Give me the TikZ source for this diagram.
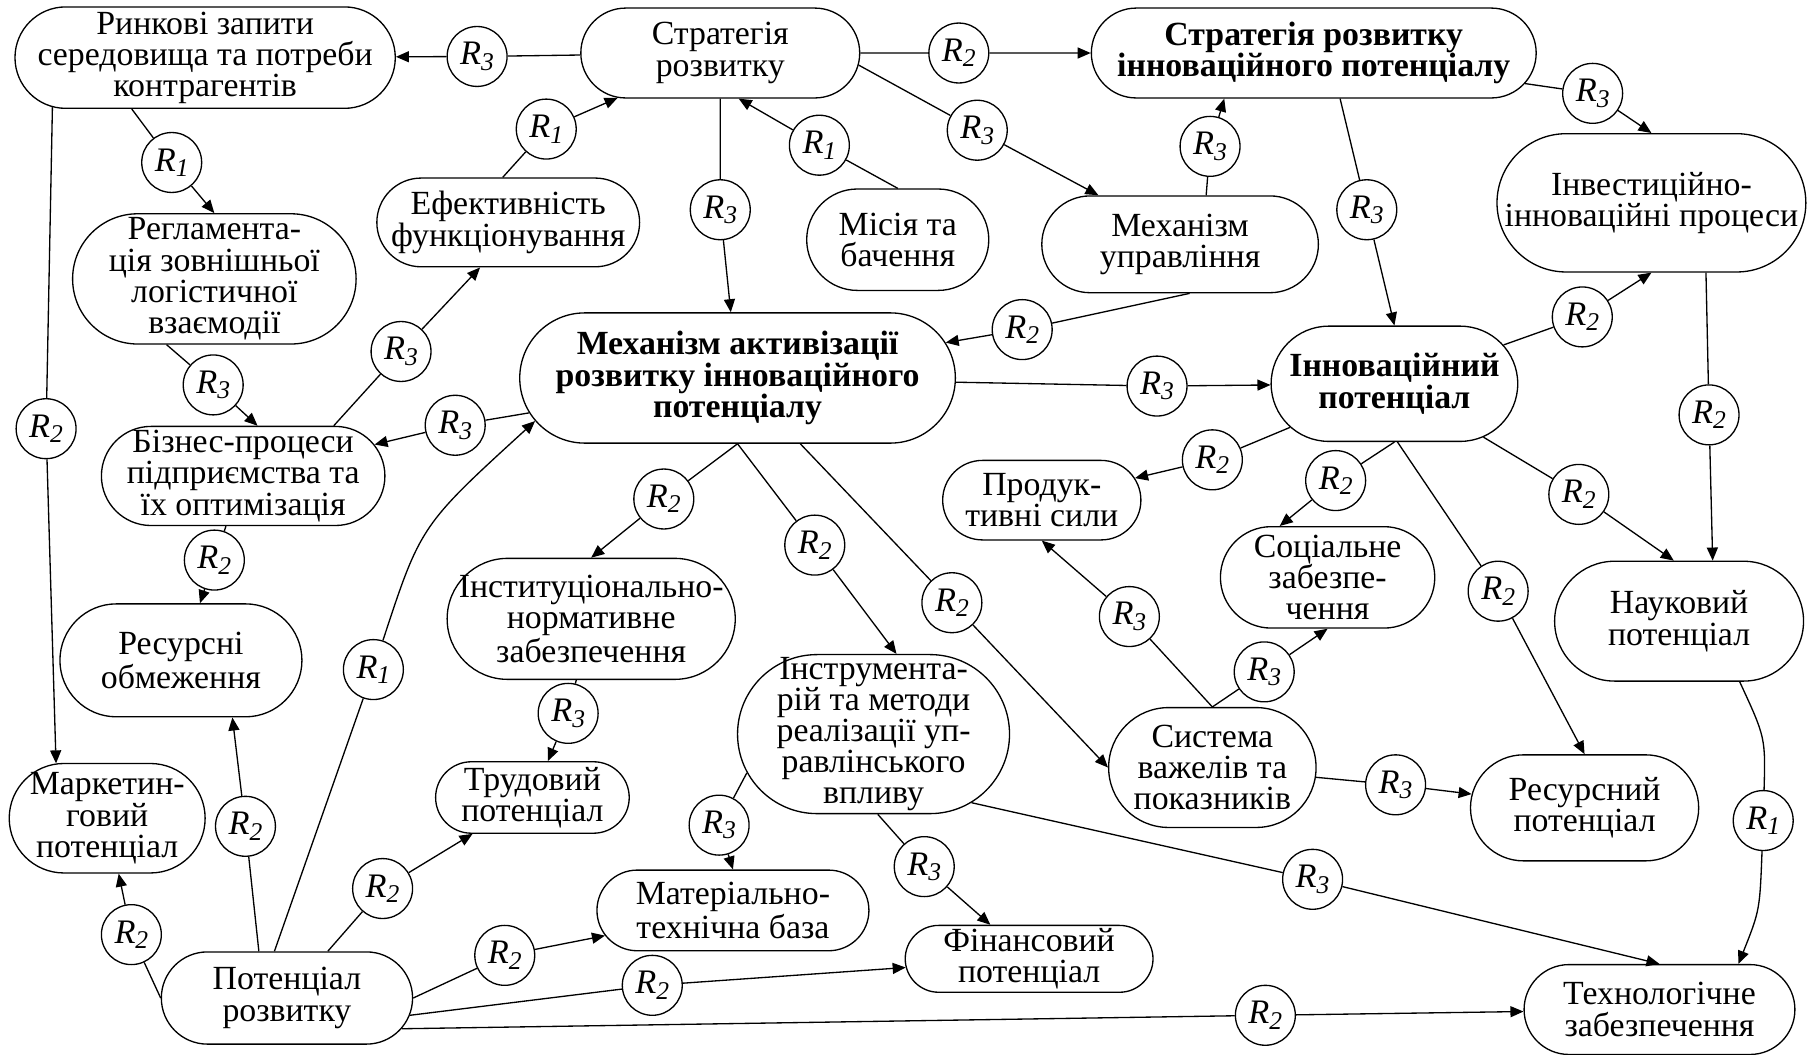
\documentclass[tikz,border=0pt]{standalone}
\usepackage{fontspec}
\setmainfont{Liberation Serif}
\usetikzlibrary{shapes.misc,arrows.meta}

\newcommand{\pxu}{0.023cm}
\newcommand{\fsz}{\fontsize{19.2}{17.7}\selectfont}
\newcommand{\Rk}[1]{{\fontsize{19.5}{19}\selectfont\textit{R}}\raisebox{-0.35ex}{\fontsize{14.5}{14}\selectfont\textit{#1}}}

\tikzset{
  blk/.style 2 args={rounded rectangle, draw, line width=0.75pt,
    minimum width=#1*\pxu, minimum height=#2*\pxu, inner sep=0pt},
  txt/.style={align=center, inner sep=0pt},
  bold/.style={font=\fsz\bfseries},
  rr/.style={circle, draw, line width=0.75pt, fill=white, minimum size=52*\pxu, inner sep=0pt},
  con/.style={line width=0.75pt},
  arr/.style={con, -{Triangle[length=0.26cm,width=0.22cm]}},
}

\begin{document}
\begin{tikzpicture}[x=\pxu, y=-\pxu, every node/.style={font=\fsz}]
\useasboundingbox (0,0) rectangle (1568,915);
%
\node[blk={330}{88}, label={[txt]center:{Ринкові запити\\середовища та потреби\\контрагентів}}] (rynok) at (178,50) {};
\node[blk={242}{78}, label={[txt]center:{Стратегія\\розвитку}}] (strat) at (625,46) {};
\node[blk={386}{78}, label={[txt,bold]center:{Стратегія розвитку\\інноваційного потенціалу}}] (stratinn) at (1140,46) {};
\node[blk={268}{120}, label={[txt]center:{Інвестиційно-\\інноваційні процеси}}] (invest) at (1433,176) {};
\node[blk={228}{77}, label={[txt]center:{Ефективність\\функціонування}}] (efekt) at (441,193) {};
\node[blk={158}{88}, label={[txt]center:{Місія та\\бачення}}] (misia) at (779,208) {};
\node[blk={240}{84}, label={[txt]center:{Механізм\\управління}}] (mechupr) at (1024,212) {};
\node[blk={246}{113}, label={[txt]center:{Регламента-\\ція зовнішньої\\логістичної\\взаємодії}}] (reglam) at (186,242) {};
\node[blk={378}{113}, label={[txt,bold]center:{Механізм активізації\\розвитку інноваційного\\потенціалу}}] (mechakt) at (640,328) {};
\node[blk={214}{100}, label={[txt,bold]center:{Інноваційний\\потенціал}}] (innov) at (1210,333) {};
\node[blk={246}{86}, label={[txt]center:{Бізнес-процеси\\підприємства та\\їх оптимізація}}] (biznes) at (211,413) {};
\node[blk={172}{69}, label={[txt]center:{Продук-\\тивні сили}}] (produk) at (904,434) {};
\node[blk={186}{88}, label={[txt]center:{Соціальне\\забезпе-\\чення}}] (social) at (1152,501) {};
\node[blk={216}{104}, label={[txt]center:{Науковий\\потенціал}}] (naukov) at (1457,539) {};
\node[blk={250}{105}, label={[txt]center:{Інституціонально-\\нормативне\\забезпечення}}] (instnorm) at (513,537) {};
\node[blk={210}{98}, label={[txt]center:{Ресурсні\\обмеження}}] (resursni) at (157,573) {};
\node[blk={236}{138}, label={[txt]center:{Інструмента-\\рій та методи\\реалізації уп-\\равлінського\\впливу}}] (instrum) at (758,637) {};
\node[blk={180}{104}, label={[txt]center:{Система\\важелів та\\показників}}] (system) at (1052,666) {};
\node[blk={168}{62}, label={[txt]center:{Трудовий\\потенціал}}] (trudov) at (462,692) {};
\node[blk={198}{92}, label={[txt]center:{Ресурсний\\потенціал}}] (resursp) at (1375,701) {};
\node[blk={170}{95}, label={[txt]center:{Маркетин-\\говий\\потенціал}}] (market) at (93,710) {};
\node[blk={236}{70}, label={[txt]center:{Матеріально-\\технічна база}}] (materi) at (636,790) {};
\node[blk={215}{58}, label={[txt]center:{Фінансовий\\потенціал}}] (finans) at (893,832) {};
\node[blk={235}{78}, label={[txt]center:{Технологічне\\забезпечення}}] (techno) at (1440,876) {};
\node[blk={218}{80}, label={[txt]center:{Потенціал\\розвитку}}] (potenc) at (249,866) {};
%
\node[rr] (c1) at (414,49) {\Rk3};
\node[rr] (c2) at (832,46) {\Rk2};
\node[rr] (c3) at (474,112) {\Rk1};
\node[rr] (c4) at (711,126) {\Rk1};
\node[rr] (c5) at (848,113) {\Rk3};
\node[rr] (c6) at (625,182) {\Rk3};
\node[rr] (c7) at (1050,127) {\Rk3};
\node[rr] (c8) at (1186,182) {\Rk3};
\node[rr] (c9) at (1382,81) {\Rk3};
\node[rr] (c10) at (887,286) {\Rk2};
\node[rr] (c11) at (149,141) {\Rk1};
\node[rr] (c12) at (185,334) {\Rk3};
\node[rr] (c13) at (348,305) {\Rk3};
\node[rr] (c14) at (395,369) {\Rk3};
\node[rr] (c15) at (186,486) {\Rk2};
\node[rr] (c16) at (40,372) {\Rk2};
\node[rr] (c17) at (324,581) {\Rk1};
\node[rr] (c18) at (213,717) {\Rk2};
\node[rr] (c19) at (114,811) {\Rk2};
\node[rr] (c20) at (332,771) {\Rk2};
\node[rr] (c21) at (438,829) {\Rk2};
\node[rr] (c22) at (566,855) {\Rk2};
\node[rr] (c23) at (1098,881) {\Rk2};
\node[rr] (c24) at (1004,335) {\Rk3};
\node[rr] (c25) at (576,433) {\Rk2};
\node[rr] (c26) at (707,473) {\Rk2};
\node[rr] (c27) at (826,523) {\Rk2};
\node[rr] (c28) at (493,619) {\Rk3};
\node[rr] (c29) at (624,716) {\Rk3};
\node[rr] (c30) at (802,752) {\Rk3};
\node[rr] (c31) at (1139,763) {\Rk3};
\node[rr] (c32) at (1373,275) {\Rk2};
\node[rr] (c33) at (1052,399) {\Rk2};
\node[rr] (c34) at (1159,417) {\Rk2};
\node[rr] (c35) at (1370,429) {\Rk2};
\node[rr] (c36) at (1300,513) {\Rk2};
\node[rr] (c37) at (1483,360) {\Rk2};
\node[rr] (c38) at (1530,712) {\Rk1};
\node[rr] (c39) at (980,535) {\Rk3};
\node[rr] (c40) at (1097,583) {\Rk3};
\node[rr] (c41) at (1211,681) {\Rk3};
%
\draw[arr] (strat) -- (c1) -- (rynok);
\draw[arr] (strat) -- (c2) -- (stratinn);
\draw[arr] (efekt.97) -- (c3) -- (strat);
\draw[arr] (misia.north) -- (c4) -- (strat.292);
\draw[arr] (strat.355) -- (c5) -- (mechupr.149);
\draw[arr] (strat) -- (c6) -- (mechakt);
\draw[arr] (mechupr.62) -- (c7) -- (stratinn.207);
\draw[arr] (stratinn.300) -- (c8) -- (innov.north);
\draw[arr] (stratinn) -- (c9) -- (invest.north);
\draw[arr] (mechupr.281) -- (c10) -- (mechakt);
%
\draw[arr] (rynok.215) -- (c11) -- (reglam.north);
\draw[arr] (reglam.234) -- (c12) -- (biznes.74);
\draw[arr] (biznes.29) -- (c13) -- (efekt.238);
\draw[arr] (mechakt) -- (c14) -- (biznes);
\draw[arr] (biznes) -- (c15) -- (resursni);
\draw[arr] (rynok.198) -- (c16) -- (market.133);
%
\draw[arr] (potenc.105) -- (c17) .. controls (365,456) .. (mechakt.192);
\draw[arr] (potenc.121) -- (c18) -- (resursni.312);
\draw[arr] (potenc.west) -- (c19) -- (market);
\draw[arr] (potenc) -- (c20) -- (trudov);
\draw[arr] (potenc.east) -- (c21) -- (materi);
\draw[arr] (potenc.352) -- (c22) -- (finans);
\draw[arr] (potenc.345) -- (c23) -- (techno);
%
\draw[arr] (mechakt) -- (c24) -- (innov);
\draw[arr] (mechakt.south) -- (c25) -- (instnorm.north);
\draw[arr] (mechakt.south) -- (c26) -- (instrum.74);
\draw[arr] (mechakt) -- (c27) -- (system.west);
\draw[arr] (instnorm) -- (c28) -- (trudov);
\draw[arr] (instrum.197) -- (c29) -- (materi.north);
\draw[arr] (instrum.273) -- (c30) -- (finans);
\draw[arr] (instrum.325) -- (c31) -- (techno.north);
%
\draw[arr] (innov) -- (c32) -- (invest.south);
\draw[arr] (innov) -- (c33) -- (produk);
\draw[arr] (innov.south) -- (c34) -- (social.133);
\draw[arr] (innov) -- (c35) -- (naukov.95);
\draw[arr] (innov.273) -- (c36) -- (resursp.north);
\draw[arr] (invest.308) -- (c37) -- (naukov.61);
\draw[arr] (naukov.315) .. controls (1532,640) .. (c38) .. controls (1527,790) .. (techno.30);
\draw[arr] (system.north) -- (c39) -- (produk.south);
\draw[arr] (system.north) -- (c40) -- (social.south);
\draw[arr] (system) -- (c41) -- (resursp);
%%%%%%%%%%%%%%%%%%%%%%%%%%%%%%%
\end{tikzpicture}
\end{document}
